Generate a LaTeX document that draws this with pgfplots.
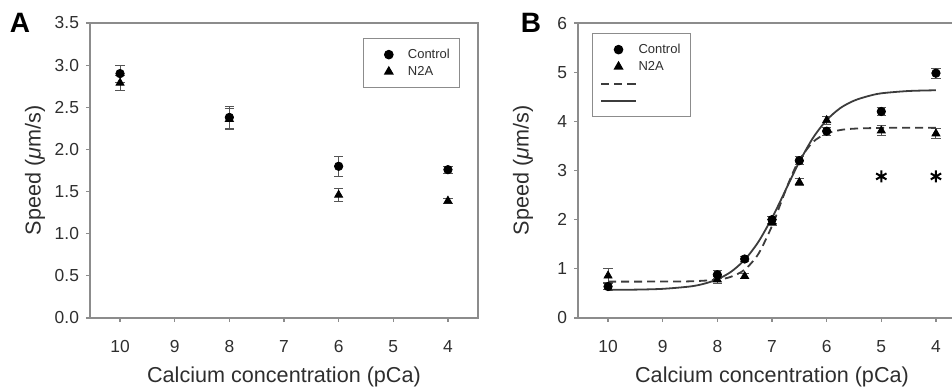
\documentclass[border=0pt]{standalone}
\usepackage{pgfplots}
\pgfplotsset{compat=1.18}
\usepackage{fontspec}
\setmainfont{Liberation Sans}
\definecolor{framec}{HTML}{8C8C8C}
\definecolor{txt}{HTML}{2E2E2E}
\definecolor{curve}{HTML}{3C3C3C}
\definecolor{errc}{HTML}{555555}

\pgfplotsset{
 panel/.style={
  scale only axis, width=194pt, height=147.5pt,
  x dir=reverse, xmin=3.45, xmax=10.55,
  xtick={4,5,6,7,8,9,10},
  tick align=outside, xtick pos=bottom, ytick pos=left,
  major tick length=2pt,
  axis line style={draw=framec, line width=0.7pt},
  every tick/.style={draw=framec, line width=0.6pt},
  tick label style={font=\fontsize{8.7}{10}\selectfont, text=txt},
  xticklabel style={yshift=-5.5pt},
  /pgf/number format/assume math mode=true,
  label style={font=\fontsize{10.8}{12}\selectfont, text=txt},
  xlabel={Calcium concentration (pCa)},
  ylabel={Speed ({\itshape μ}m/s)},
  xlabel style={at={([yshift=-29.5pt]axis description cs:0.5,0)}, anchor=center},
  ylabel style={at={([xshift=-27.5pt]axis description cs:0,0.5)}, anchor=center},
  legend cell align=left,
  legend style={draw=framec, line width=0.6pt, inner sep=4pt,
     font=\fontsize{6.5}{7}\selectfont, text=txt, row sep=0.5pt,
     nodes={inner sep=1pt, text height=4.7pt, text depth=1.3pt}},
 },
 markleg/.style={legend image code/.code={
     \path[draw=none, fill=none] (0cm,-1pt) rectangle (0.6cm,1pt);
     \draw[only marks] plot coordinates {(0.3cm,0cm)};}},
 ctrl/.style={only marks, mark=*, black, mark size=2.1pt, markleg,
   error bars/.cd, y dir=both, y explicit,
   error bar style={errc, line width=0.5pt},
   error mark options={rotate=90, mark size=2.3pt, errc, line width=0.5pt}},
 n2a/.style={only marks, mark=triangle*, black, mark size=2.3pt, markleg,
   error bars/.cd, y dir=both, y explicit,
   error bar style={errc, line width=0.5pt},
   error mark options={rotate=90, mark size=2.3pt, errc, line width=0.5pt}},
}

\begin{document}
\begin{tikzpicture}
\useasboundingbox (0,0) rectangle (476pt,-194.5pt);

% Panel A
\begin{axis}[panel, at={(45pt,-159pt)}, anchor=south west,
  ymin=0, ymax=3.5, ytick={0,0.5,1,1.5,2,2.5,3,3.5},
  yticklabel style={/pgf/number format/.cd, fixed, fixed zerofill, precision=1},
  legend style={at={(0.704,0.949)}, anchor=north west}]
\addplot[ctrl] table[x=x, y=y, y error=e] {
x y e
10 2.90 0.10
8 2.38 0.13
6 1.80 0.12
4 1.76 0.04
};
\addlegendentry{Control}
\addplot[n2a] table[x=x, y=y, y error=e] {
x y e
10 2.79 0.09
8 2.36 0.12
6 1.46 0.08
4 1.39 0.03
};
\addlegendentry{N2A}
\end{axis}

% Panel B
\begin{axis}[panel, at={(289pt,-159pt)}, anchor=south west,
  ymin=0, ymax=6, ytick={0,1,2,3,4,5,6},
  legend style={at={(0.036,0.966)}, anchor=north west}]
\addplot[ctrl] table[x=x, y=y, y error=e] {
x y e
10 0.64 0.06
8 0.88 0.08
7.5 1.20 0.06
7 2.00 0.07
6.5 3.20 0.08
6 3.80 0.08
5 4.20 0.08
4 4.98 0.10
};
\addlegendentry{Control}
\addplot[n2a] table[x=x, y=y, y error=e] {
x y e
10 0.86 0.14
8 0.78 0.07
7.5 0.85 0.05
7 1.95 0.06
6.5 2.76 0.07
6 4.02 0.08
5 3.81 0.10
4 3.75 0.10
};
\addlegendentry{N2A}
\addplot[curve, line width=0.9pt, dash pattern=on 4pt off 2.5pt, smooth] coordinates {
(10,0.740) (9,0.741) (8.5,0.746) (8,0.779) (7.75,0.839) (7.5,0.984) (7.25,1.302)
(7,1.871) (6.875,2.231) (6.75,2.599) (6.625,2.936) (6.5,3.215) (6.25,3.580)
(6,3.751) (5.75,3.823) (5.5,3.851) (5,3.867) (4.5,3.869) (4,3.870)
};
\addlegendentry{}
\addplot[curve, line width=0.9pt, smooth] coordinates {
(10,0.572) (9.5,0.577) (9,0.593) (8.5,0.641) (8.25,0.695) (8,0.787) (7.75,0.940)
(7.5,1.185) (7.25,1.547) (7,2.035) (6.875,2.313) (6.75,2.605) (6.625,2.895)
(6.5,3.175) (6.25,3.663) (6,4.025) (5.75,4.27) (5.5,4.42) (5.25,4.51) (5,4.57)
(4.5,4.617) (4,4.632)
};
\addlegendentry{}
\addplot[only marks, mark=asterisk, black, mark size=3pt, line width=1pt, forget plot] coordinates {
(5,2.88) (4,2.88)
};
\end{axis}

\node[font=\bfseries\fontsize{14}{16}\selectfont] at (10pt,-11.5pt) {A};
\node[font=\bfseries\fontsize{14}{16}\selectfont] at (265.5pt,-11.5pt) {B};
\end{tikzpicture}
\end{document}
